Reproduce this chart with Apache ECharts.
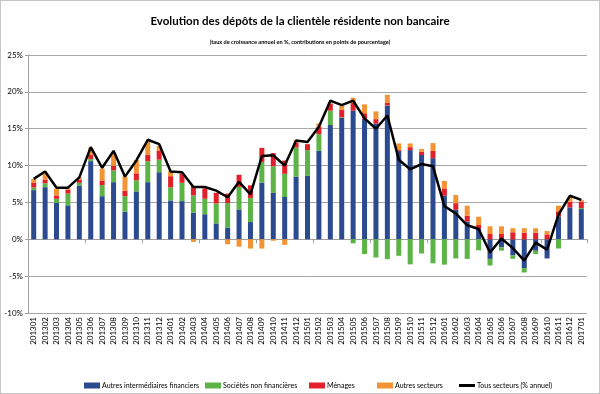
<!DOCTYPE html>
<html>
<head>
<meta charset="utf-8">
<script src="https://cdn.jsdelivr.net/npm/echarts@6/dist/echarts.min.js"></script>
<style>
html,body{margin:0;padding:0;background:#fff;}
#c{width:600px;height:394px;box-sizing:border-box;border:1px solid #c4c4c4;}
</style>
</head>
<body>
<div id="c"></div>
<script>
const categories = ["201301","201302","201303","201304","201305","201306","201307","201308","201309","201310","201311","201312",
"201401","201402","201403","201404","201405","201406","201407","201408","201409","201410","201411","201412",
"201501","201502","201503","201504","201505","201506","201507","201508","201509","201510","201511","201512",
"201601","201602","201603","201604","201605","201606","201607","201608","201609","201610","201611","201612","201701"];

const autresIntermediaires = [6.67,7.07,4.95,4.6,7.3,10.6,5.85,7.75,3.74,6.5,7.75,9.1,
5.27,5.18,3.6,3.4,2.16,1.6,4.05,2.34,7.7,6.3,5.74,8.5,
8.6,12.0,15.5,16.46,17.44,16.37,15.7,18.16,11.97,12.1,11.43,11.0,
5.9,4.0,2.4,1.4,-2.66,-1.08,-2.2,-3.9,-1.56,-2.6,3.1,4.33,4.1];

const societesNonFinancieres = [0.35,0.54,0.55,1.6,0.35,0.3,1.5,1.6,2.1,1.5,2.84,1.7,
1.76,2.48,2.35,2.1,2.7,3.3,3.06,3.28,2.8,3.6,3.14,3.95,
3.5,2.26,1.95,0.1,-0.55,-2.0,-2.47,-2.7,-2.24,-3.4,-1.93,-3.26,
-3.44,-2.6,-2.66,-1.5,-0.9,-0.45,-0.45,-0.6,-0.45,0,-1.25,0,0.14];

const menages = [0.63,0.5,0.45,0.55,0.45,0.6,0.62,0.63,0.77,0.95,0.9,1.26,
1.53,1.26,1.26,1.4,1.44,1.3,1.64,1.7,1.9,1.8,1.8,0.63,
0.8,1.0,0.95,1.04,1.06,0.73,0.6,0.34,0.13,0.4,0.45,1.0,
1.0,0.9,0.8,0.54,0.72,0.72,0.95,0.9,0.9,0.67,0.7,0.77,0.86];

const autresSecteurs = [0.54,0.8,0.9,0.2,0.3,0.9,1.6,1.8,1.9,1.8,1.8,0.63,
0.67,0,-0.36,0,0,-0.68,-1.0,-1.26,-1.26,-0.2,-0.76,0.35,
0,0.45,0.15,0.47,0.7,1.2,1.05,1.1,0.9,0.5,0.36,1.05,
1.0,1.1,1.35,1.12,1.04,1.04,0.55,0.6,0.6,0.45,0.75,0.6,0.25];

const tousSecteurs = [8.2,9.2,7.0,7.0,8.4,12.5,9.7,12.0,8.5,10.7,13.5,12.9,
9.2,9.1,7.1,7.1,6.6,5.7,7.8,6.1,11.3,11.4,10.0,13.4,
13.2,15.25,18.8,18.2,18.8,16.4,15.0,16.8,10.8,9.5,10.2,9.9,
4.5,3.5,1.9,1.4,-1.8,0.1,-1.2,-2.9,-0.45,-1.4,3.35,5.9,5.35];

const yTicks = {min:-10, max:25, interval:5};

const names = ["Autres intermédiaires financiers","Sociétés non financières","Ménages","Autres secteurs","Tous secteurs (% annuel)"];
const colors = ["#2c4a90","#5cb446","#e2202b","#f29433","#000000"];
const FONT = "Lato, 'Open Sans', sans-serif";

const chart = echarts.init(document.getElementById('c'), null, {renderer:'canvas'});

function barSeries(i, data){
  return {
    name:names[i], type:'bar', stack:'s', data:data, barWidth:5,
    itemStyle:{color:colors[i]}, xAxisIndex:0, yAxisIndex:0, animation:false
  };
}
const legendX = [78,199,303,371,453];
const legends = names.map((n,i)=>({
  data:[n], left:legendX[i], top:376, itemWidth:16, itemHeight: i===4?3:6, itemGap:2,
  icon:'rect',
  textStyle:{fontSize:7, fontFamily:FONT, color:'#000', padding:[0,0,0,-3]},
  selectedMode:false
}));

chart.setOption({
  animation:false,
  title:[
    {text:'Evolution des dépôts de la clientèle résidente non bancaire', left:'center', top:9,
     textStyle:{fontSize:11.5, fontWeight:'bold', fontFamily:FONT, color:'#000'}},
    {text:'(taux de croissance annuel en %, contributions en points de pourcentage)', left:'center', top:33,
     textStyle:{fontSize:5.6, fontWeight:'bold', fontFamily:FONT, color:'#000'}}
  ],
  legend:legends,
  grid:{left:27, right:12, top:54, bottom:80},
  xAxis:[
    {type:'category', data:categories, position:'bottom',
     axisLine:{onZero:true, lineStyle:{color:'#a0a0a0', width:1}},
     axisTick:{show:true, length:4, lineStyle:{color:'#a0a0a0'}},
     axisLabel:{show:false}, splitLine:{show:false}},
    {type:'category', data:categories, position:'bottom', gridIndex:0,
     axisLine:{show:false, onZero:false}, axisTick:{show:false},
     axisLabel:{interval:0, rotate:90, fontSize:8, fontFamily:FONT, color:'#000', margin:4}}
  ],
  yAxis:{type:'value', min:yTicks.min, max:yTicks.max, interval:yTicks.interval,
    axisLine:{show:true, lineStyle:{color:'#a0a0a0'}},
    axisTick:{show:true, length:3, lineStyle:{color:'#a0a0a0'}},
    axisLabel:{formatter:'{value}%', fontSize:8, fontFamily:FONT, color:'#000', margin:5},
    splitLine:{lineStyle:{color:'#a6a6a6', width:1}}},
  series:[
    barSeries(0, autresIntermediaires),
    barSeries(1, societesNonFinancieres),
    barSeries(2, menages),
    barSeries(3, autresSecteurs),
    {name:names[4], type:'line', data:tousSecteurs, symbol:'none', showSymbol:false,
     lineStyle:{color:'#000', width:2.5}, itemStyle:{color:'#000'}, z:5, xAxisIndex:0, yAxisIndex:0}
  ]
});
</script>
</body>
</html>
